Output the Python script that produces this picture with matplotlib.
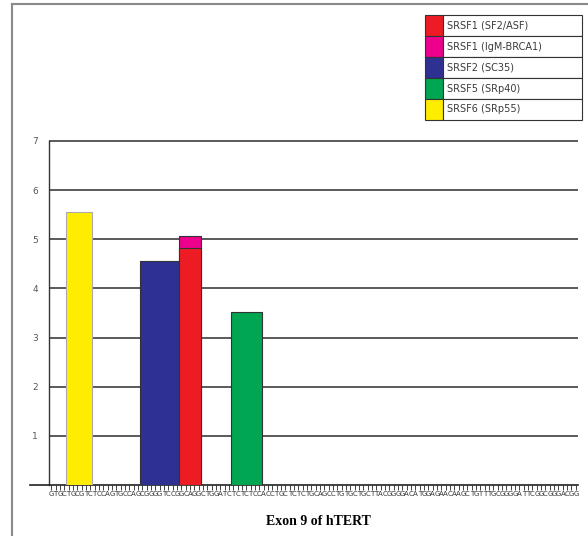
import matplotlib
matplotlib.use("Agg")
import matplotlib.pyplot as plt
from matplotlib.patches import Rectangle
from matplotlib.lines import Line2D

# Exon 9 nucleotide sequence shown along the x axis
sequence = ("GTGCTGCGTCTCCAGTGCCAGCGGGGTCCGGCAGGCTGGATCTCTCTCCA"
            "CCTGCTCTCTGCAGCCTGTGCTGCTTACGGGGACATGGAGAACAAGCTGT"
            "TTGCGGGGATTCGGCGGGACGG")

# ESEfinder motifs: name, start position (nt), motif length (nt), score
proteins = ["SRSF1 (SF2/ASF)", "SRSF1 (IgM-BRCA1)", "SRSF2 (SC35)",
            "SRSF5 (SRp40)", "SRSF6 (SRp55)"]
colors = ["#ED1C24", "#EC008C", "#2E3192", "#00A651", "#FFED00"]
starts = [30, 30, 21, 42, 4]
lengths = [5, 5, 9, 7, 6]
scores = [4.83, 5.07, 4.56, 3.52, 5.55]
# stacking order: taller IgM-BRCA1 score drawn behind the SF2/ASF bar
draw_order = [4, 2, 1, 0, 3]

y_ticks = [1, 2, 3, 4, 5, 6, 7]

W, H = 588, 536
fig = plt.figure(figsize=(W / 100, H / 100), dpi=100)
fig.patch.set_facecolor("white")

# outer frame lines
fig.add_artist(Line2D([12 / W, 1], [1 - 4 / H, 1 - 4 / H], color="#8a8a8a", lw=1.5))
fig.add_artist(Line2D([12 / W, 12 / W], [0, 1 - 4 / H], color="#8a8a8a", lw=1.5))

x0_pix, x1_pix = 30, 578
y0_pix, y1_pix = 485, 141
ax = fig.add_axes([x0_pix / W, 1 - y0_pix / H, (x1_pix - x0_pix) / W, (y0_pix - y1_pix) / H])
n = len(sequence)
ax.set_xlim(-4.4, n)
ax.set_ylim(0, 7)

for s in ["top", "right"]:
    ax.spines[s].set_visible(False)
ax.spines["left"].set_position(("data", 0))
ax.spines["left"].set_color("#333333")
ax.spines["left"].set_linewidth(1.0)
ax.spines["bottom"].set_color("#222222")
ax.spines["bottom"].set_linewidth(1.2)

# horizontal grid lines from the y axis to the right edge
for y in y_ticks:
    ax.hlines(y, 0, n, color="#5a5a5a", lw=1.4, zorder=1, clip_on=False)

for i in draw_order:
    edge = "#aaaaaa" if i == 4 else "#333333"
    ax.add_patch(Rectangle((starts[i], 0), lengths[i], scores[i],
                           facecolor=colors[i], edgecolor=edge, lw=0.8, zorder=3))

ax.set_yticks(y_ticks)
ax.set_yticklabels([str(v) for v in y_ticks], fontsize=6.5, color="#555555")
ax.tick_params(axis="y", length=0, pad=8)

ax.set_xticks([i + 0.5 for i in range(n)])
ax.set_xticklabels(list(sequence), fontsize=5, color="#333333",
                   family=["Liberation Sans Narrow", "DejaVu Sans"])
ax.tick_params(axis="x", length=3.5, width=0.6, color="#222222", pad=0.5)

ax.set_xlabel("Exon 9 of hTERT", fontsize=10, fontweight="bold",
              family="Liberation Serif", labelpad=13, x=(318 - x0_pix) / (x1_pix - x0_pix))

# legend table
lx0, lx1, ly0, ly1 = 425, 582, 15, 120
sw = 18
row_h = (ly1 - ly0) / len(proteins)
for k, (name, col) in enumerate(zip(proteins, colors)):
    top = ly0 + k * row_h
    fig.add_artist(Rectangle((lx0 / W, 1 - (top + row_h) / H), sw / W, row_h / H,
                             facecolor=col, edgecolor="#333333", lw=0.8))
    fig.add_artist(Rectangle(((lx0 + sw) / W, 1 - (top + row_h) / H), (lx1 - lx0 - sw) / W, row_h / H,
                             facecolor="white", edgecolor="#333333", lw=0.8))
    fig.text((lx0 + sw + 4) / W, 1 - (top + row_h / 2) / H, name, fontsize=7,
             color="#3a3a3a", va="center", ha="left")

fig.savefig("out.png", dpi=100)
